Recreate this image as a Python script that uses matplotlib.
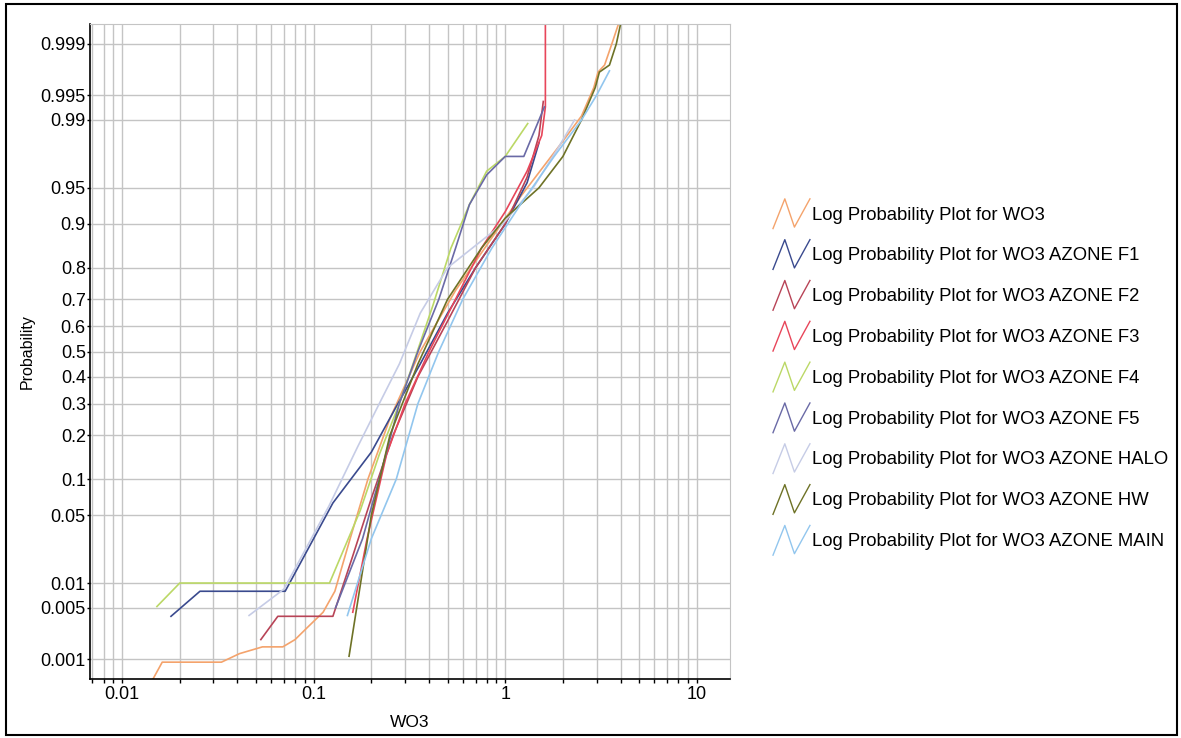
import numpy as np
import matplotlib
matplotlib.use("Agg")
import matplotlib.pyplot as plt
from matplotlib.lines import Line2D
from matplotlib.legend_handler import HandlerBase
from matplotlib.ticker import FixedLocator, FixedFormatter, LogLocator, NullFormatter
from matplotlib.patches import Rectangle
from statistics import NormalDist

plt.rcParams['font.family'] = ['Liberation Sans', 'DejaVu Sans']

# -------------------------------------------------------
# Data (WO3 value, cumulative probability)
# -------------------------------------------------------
wo3_x = [0.0145, 0.0162, 0.033, 0.041, 0.054, 0.069, 0.080, 0.093, 0.112, 0.129,
         0.155, 0.192, 0.25, 0.36, 0.55, 0.84, 1.2, 1.93, 2.5, 2.9, 3.05, 3.3, 3.6, 3.9]
wo3_p = [0.0005, 0.0009, 0.0009, 0.0012, 0.0015, 0.0015, 0.0019, 0.0028, 0.0044, 0.008,
         0.03, 0.1, 0.25, 0.5, 0.73, 0.87, 0.94, 0.981, 0.991, 0.996, 0.9975, 0.998, 0.999, 0.9995]

f1_x = [0.018, 0.0255, 0.071, 0.126, 0.2, 0.27, 0.36, 0.5, 0.7, 1.0, 1.3, 1.5]
f1_p = [0.0039, 0.008, 0.008, 0.064, 0.156, 0.29, 0.45, 0.65, 0.8, 0.9, 0.955, 0.982]

f2_x = [0.053, 0.065, 0.126, 0.16, 0.2, 0.26, 0.35, 0.5, 0.7, 1.0, 1.3, 1.5, 1.58]
f2_p = [0.0019, 0.0039, 0.0039, 0.02, 0.07, 0.2, 0.4, 0.62, 0.8, 0.9, 0.96, 0.985, 0.994]

f3_x = [0.16, 0.19, 0.24, 0.3, 0.4, 0.55, 0.75, 1.0, 1.3, 1.55, 1.62, 1.62]
f3_p = [0.0044, 0.03, 0.15, 0.3, 0.5, 0.7, 0.85, 0.92, 0.965, 0.985, 0.993, 0.9995]

f4_x = [0.0152, 0.020, 0.121, 0.175, 0.22, 0.28, 0.33, 0.42, 0.52, 0.65, 0.8, 1.0, 1.31]
f4_p = [0.0052, 0.01, 0.01, 0.055, 0.15, 0.3, 0.45, 0.68, 0.85, 0.93, 0.965, 0.975, 0.989]

f5_x = [0.13, 0.18, 0.22, 0.28, 0.35, 0.45, 0.55, 0.65, 0.8, 1.0, 1.25, 1.5, 1.6]
f5_p = [0.005, 0.03, 0.1, 0.3, 0.5, 0.7, 0.85, 0.93, 0.962, 0.975, 0.975, 0.99, 0.993]

halo_x = [0.046, 0.07, 0.12, 0.17, 0.22, 0.28, 0.36, 0.5, 0.97, 1.4, 1.9, 2.3]
halo_p = [0.004, 0.0085, 0.06, 0.17, 0.3, 0.45, 0.65, 0.8, 0.9, 0.95, 0.98, 0.99]

hw_x = [0.153, 0.2, 0.25, 0.35, 0.5, 0.75, 1.0, 1.5, 2.0, 2.5, 2.95, 3.1, 3.5, 3.8, 4.0]
hw_p = [0.0011, 0.05, 0.2, 0.45, 0.7, 0.85, 0.91, 0.95, 0.975, 0.99, 0.996, 0.9975, 0.998, 0.999, 0.9995]

main_x = [0.15, 0.2, 0.27, 0.35, 0.45, 0.6, 0.85, 1.2, 1.8, 2.5, 3.0, 3.5]
main_p = [0.004, 0.03, 0.1, 0.3, 0.5, 0.7, 0.85, 0.93, 0.975, 0.99, 0.995, 0.9976]

series = [
    ("Log Probability Plot for WO3", wo3_x, wo3_p, "#F4A36C"),
    ("Log Probability Plot for WO3 AZONE F1", f1_x, f1_p, "#3A4A8E"),
    ("Log Probability Plot for WO3 AZONE F2", f2_x, f2_p, "#B84457"),
    ("Log Probability Plot for WO3 AZONE F3", f3_x, f3_p, "#E8465A"),
    ("Log Probability Plot for WO3 AZONE F4", f4_x, f4_p, "#BBD866"),
    ("Log Probability Plot for WO3 AZONE F5", f5_x, f5_p, "#6A6AA6"),
    ("Log Probability Plot for WO3 AZONE HALO", halo_x, halo_p, "#C6CCE6"),
    ("Log Probability Plot for WO3 AZONE HW", hw_x, hw_p, "#6E7226"),
    ("Log Probability Plot for WO3 AZONE MAIN", main_x, main_p, "#92C6EE"),
]

y_ticks = [0.001, 0.005, 0.01, 0.05, 0.1, 0.2, 0.3, 0.4, 0.5, 0.6, 0.7, 0.8, 0.9, 0.95, 0.99, 0.995, 0.999]
y_labels = ["0.001", "0.005", "0.01", "0.05", "0.1", "0.2", "0.3", "0.4", "0.5",
            "0.6", "0.7", "0.8", "0.9", "0.95", "0.99", "0.995", "0.999"]
x_ticks = [0.01, 0.1, 1, 10]
x_labels = ["0.01", "0.1", "1", "10"]

# -------------------------------------------------------
# Normal probability scale
# -------------------------------------------------------
_nd = NormalDist()
_ppf = np.vectorize(_nd.inv_cdf, otypes=[float])
_cdf = np.vectorize(_nd.cdf, otypes=[float])


def prob_fwd(p):
    p = np.clip(np.asarray(p, dtype=float), 1e-9, 1 - 1e-9)
    return _ppf(p)


def prob_inv(z):
    return _cdf(np.asarray(z, dtype=float))


# zigzag legend handle
class ZigZagHandler(HandlerBase):
    def create_artists(self, legend, orig_handle, xdescent, ydescent,
                       width, height, fontsize, trans):
        xs = np.array([0.0, 0.32, 0.58, 1.0]) * width - xdescent
        ys = np.array([0.0, 1.0, 0.05, 1.0]) * height - ydescent
        ln = Line2D(xs, ys, color=orig_handle.get_color(), lw=1.0)
        ln.set_transform(trans)
        return [ln]


fig = plt.figure(figsize=(11.81, 7.38), dpi=100)
ax = fig.add_axes([90 / 1181, 1 - 679 / 738, 640 / 1181, 655 / 738])

handles = []
for name, xs, ps, col in series:
    h, = ax.plot(xs, ps, color=col, lw=1.2, label=name)
    handles.append(h)

ax.set_xscale("log")
ax.set_yscale("function", functions=(prob_fwd, prob_inv))
ax.set_xlim(0.0068, 14.9)
ax.set_ylim(0.0005, 0.9995)

ax.xaxis.set_major_locator(FixedLocator(x_ticks))
ax.xaxis.set_major_formatter(FixedFormatter(x_labels))
ax.xaxis.set_minor_locator(LogLocator(base=10, subs=np.arange(2, 10)))
ax.xaxis.set_minor_formatter(NullFormatter())
ax.yaxis.set_major_locator(FixedLocator(y_ticks))
ax.yaxis.set_major_formatter(FixedFormatter(y_labels))
ax.yaxis.set_minor_locator(FixedLocator([]))

ax.grid(True, which="both", axis="x", color="#C4C4C4", lw=1.0)
ax.grid(True, which="major", axis="y", color="#C4C4C4", lw=1.0)
ax.set_axisbelow(True)

ax.tick_params(axis="x", which="both", direction="out", length=3, width=1, pad=2, labelsize=13)
ax.tick_params(axis="y", which="major", direction="out", length=2, width=1, pad=1, labelsize=13)

for side in ("top", "right"):
    ax.spines[side].set_color("#C4C4C4")
for side in ("left", "bottom"):
    ax.spines[side].set_color("black")
    ax.spines[side].set_linewidth(1.2)

ax.set_xlabel("WO3", fontsize=12.5, labelpad=9)
ax.set_ylabel("Probability", fontsize=11.5, labelpad=4)

leg = fig.legend(handles=handles, loc="center left",
                 bbox_to_anchor=(773 / 1181, 1 - 377 / 738),
                 handler_map={Line2D: ZigZagHandler()},
                 frameon=False, fontsize=13.3, handlelength=2.0, handleheight=2.1,
                 handletextpad=0.1, labelspacing=0.6, borderpad=0, borderaxespad=0)

# outer frame
fig.patches.append(Rectangle((6 / 1181, 3 / 738), 1171 / 1181, 731 / 738,
                             transform=fig.transFigure, fill=False,
                             edgecolor="black", lw=1.5))

fig.savefig("out.png", dpi=100)
print("Plot saved: out.png")
